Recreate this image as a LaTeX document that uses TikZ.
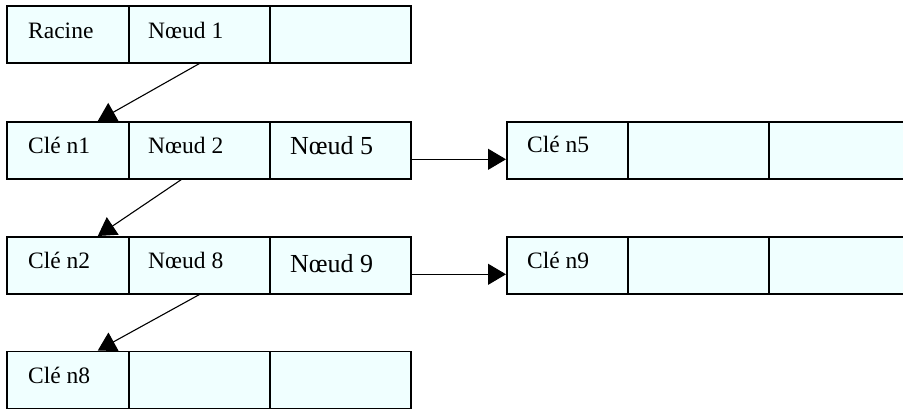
\documentclass[tikz,border=0pt]{standalone}
\usepackage{fontspec}
\setmainfont{Liberation Serif}
\usetikzlibrary{arrows.meta}
\definecolor{cellfill}{RGB}{240,255,255}
\begin{document}
\begin{tikzpicture}[x=1pt,y=-1pt,
  cell/.style={draw=black,line width=1.6pt,fill=cellfill,minimum height=57pt,inner sep=0pt,anchor=north west},
  lbl/.style={anchor=base west,inner sep=0pt,font=\fontsize{23.5}{26}\selectfont},
  big/.style={anchor=base west,inner sep=0pt,font=\fontsize{26}{28}\selectfont},
  arr/.style={line width=1.1pt,-{Triangle[length=18pt,width=21pt]}}]
\useasboundingbox (0,0) rectangle (903,409);
% left column cells
\foreach \r/\y in {1/5,2/121,3/236,4/350.5}{
  \node[cell,minimum width=122pt] (L\r a) at (6,\y) {};
  \node[cell,minimum width=141pt] (L\r b) at (128,\y) {};
  \node[cell,minimum width=141pt] (L\r c) at (269,\y) {};
}
% right cells
\foreach \r/\y in {2/121,3/236}{
  \node[cell,minimum width=121pt] (R\r a) at (506,\y) {};
  \node[cell,minimum width=141pt] (R\r b) at (627,\y) {};
  \node[cell,minimum width=141pt] (R\r c) at (768,\y) {};
}
% texts
\node[lbl] (t1) at (28,39) {Racine};
\node[lbl] (t2) at (148,39) {Nœud 1};
\node[lbl] (t3) at (28,154) {Clé n1};
\node[lbl] (t4) at (148,154) {Nœud 2};
\node[big] (t5) at (290,155) {Nœud 5};
\node[lbl] (t6) at (527,153) {Clé n5};
\node[lbl] (t7) at (28,269) {Clé n2};
\node[lbl] (t8) at (148,269) {Nœud 8};
\node[big] (t9) at (290,272) {Nœud 9};
\node[lbl] (t10) at (527,268) {Clé n9};
\node[lbl] (t11) at (28,383) {Clé n8};
% arrows
\draw[arr] (L1b.south) -- ([xshift=30pt]L2a.north);
\draw[arr] ([xshift=-18pt]L2b.south) -- ([xshift=30pt]L3a.north);
\draw[arr] (L3b.south) -- ([xshift=30pt]L4a.north);
\draw[arr] ([yshift=-9pt]L2c.east) -- ([yshift=-9pt]R2a.west);
\draw[arr] ([yshift=-9pt]L3c.east) -- ([yshift=-9pt]R3a.west);
\end{tikzpicture}
\end{document}
